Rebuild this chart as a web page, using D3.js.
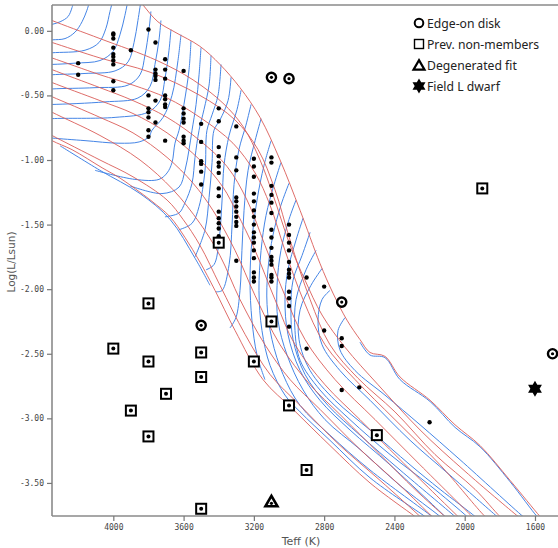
<!DOCTYPE html>
<html><head><meta charset="utf-8">
<script src="https://cdn.jsdelivr.net/npm/d3@7"></script>
<style>body{margin:0;background:#fff}svg{display:block}</style>
</head><body>
<svg id="chart" width="558" height="548"></svg>
<script>
// ---------------- DATA ----------------
const xTicks = [4000, 3600, 3200, 2800, 2400, 2000, 1600];
const yTicks = [0, -0.5, -1, -1.5, -2, -2.5, -3, -3.5];

// cluster members: columns of Teff with their log(L/Lsun) values
const memberTeff = [4200, 4000, 3900, 3800, 3760, 3705, 3600, 3500, 3400, 3300, 3200, 3100, 3000, 2900, 2800, 2700, 2600, 2200];
const memberLogL = [
  [-0.25, -0.34],
  [-0.02, -0.03, -0.06, -0.13, -0.18, -0.20, -0.23, -0.26, -0.39, -0.46],
  [-0.15],
  [0.01, -0.50, -0.60, -0.63, -0.67, -0.77, -0.82],
  [-0.09, -0.30, -0.33, -0.35, -0.38, -0.54, -0.71],
  [-0.22, -0.30, -0.37, -0.50, -0.53, -0.57, -0.59, -0.85],
  [-0.31, -0.60, -0.64, -0.68, -0.71, -0.82, -0.85, -0.87],
  [-0.72, -0.86, -1.01, -1.03, -1.09, -1.19],
  [-0.60, -0.70, -0.90, -0.97, -1.02, -1.05, -1.10, -1.22, -1.28, -1.40, -1.45, -1.49, -1.53, -1.59],
  [-0.74, -0.98, -1.08, -1.29, -1.32, -1.36, -1.40, -1.44, -1.48, -1.51, -1.78],
  [-0.99, -1.05, -1.13, -1.26, -1.32, -1.39, -1.44, -1.50, -1.56, -1.60, -1.64, -1.70, -1.76, -1.87, -1.91, -1.94],
  [-0.98, -1.02, -1.20, -1.27, -1.33, -1.41, -1.54, -1.60, -1.68, -1.75, -1.78, -1.81, -1.89, -1.91, -1.94],
  [-1.50, -1.58, -1.64, -1.70, -1.79, -1.85, -1.88, -1.91, -2.02, -2.07, -2.13, -2.29],
  [-1.91, -2.46],
  [-1.98, -2.32],
  [-2.38, -2.44, -2.78],
  [-2.76],
  [-3.03]
];

const edgeOnDisk = [[3100, -0.36], [3000, -0.37], [3500, -2.28], [2700, -2.10], [1500, -2.50]];
const prevNonMembers = [[4000, -2.46], [3900, -2.94], [3800, -2.11], [3800, -2.56], [3800, -3.14], [3700, -2.81],
  [3500, -2.49], [3500, -2.68], [3500, -3.70], [3400, -1.64], [3200, -2.56], [3100, -2.25], [3000, -2.90],
  [2900, -3.40], [2500, -3.13], [1900, -1.22]];
const degeneratedFit = [[3100, -3.65]];
const fieldLDwarf = [[1600, -2.77]];

const legendLabels = ["Edge-on disk", "Prev. non-members", "Degenerated fit", "Field L dwarf"];

// isochrones (red), [Teff, logL]
const isochrones = [
  [[3877,0.28],[3831,0.20],[3746,0.07],[3649,-0.01],[3507,-0.12],[3393,-0.26],[3279,-0.44],[3165,-0.67],[3051,-1.00],[2937,-1.39],[2824,-1.80],[2750,-2.03],[2670,-2.24],[2596,-2.39],[2539,-2.49],[2454,-2.52],[2368,-2.68],[2197,-2.86],[2055,-3.05],[1913,-3.21],[1742,-3.48],[1571,-3.76],[1543,-3.80]],
  [[4417,0.12],[4349,0.08],[4076,-0.06],[3751,-0.23],[3546,-0.38],[3376,-0.56],[3262,-0.74],[3165,-1.00],[3091,-1.27],[2994,-1.66],[2909,-1.93],[2812,-2.20],[2681,-2.45],[2493,-2.74],[2254,-3.09],[1998,-3.41],[1696,-3.76],[1668,-3.79]],
  [[4417,-0.06],[4349,-0.09],[4076,-0.21],[3791,-0.32],[3507,-0.50],[3307,-0.69],[3176,-0.92],[3080,-1.23],[2994,-1.62],[2880,-2.08],[2767,-2.43],[2607,-2.69],[2397,-2.95],[2169,-3.28],[1941,-3.55],[1799,-3.76],[1771,-3.79]],
  [[4417,-0.18],[4349,-0.21],[4076,-0.34],[3888,-0.42],[3694,-0.52],[3507,-0.67],[3319,-0.87],[3193,-1.10],[3108,-1.35],[3023,-1.70],[2920,-2.08],[2795,-2.43],[2624,-2.70],[2397,-3.01],[2140,-3.36],[1884,-3.76],[1856,-3.79]],
  [[4417,-0.26],[4349,-0.30],[4076,-0.44],[3888,-0.54],[3694,-0.67],[3507,-0.85],[3353,-1.05],[3239,-1.31],[3137,-1.66],[3023,-2.05],[2909,-2.39],[2738,-2.70],[2510,-3.01],[2254,-3.36],[1958,-3.76],[1936,-3.79]],
  [[4417,-0.36],[4349,-0.40],[4076,-0.54],[3888,-0.64],[3694,-0.79],[3507,-1.00],[3376,-1.21],[3296,-1.41],[3193,-1.70],[3080,-2.08],[2966,-2.43],[2795,-2.74],[2596,-3.01],[2368,-3.32],[2038,-3.76],[2015,-3.79]],
  [[4417,-0.47],[4349,-0.51],[4076,-0.67],[3888,-0.79],[3694,-0.98],[3546,-1.18],[3433,-1.39],[3307,-1.70],[3193,-2.05],[3051,-2.43],[2880,-2.74],[2710,-2.97],[2482,-3.28],[2283,-3.55],[2112,-3.76],[2084,-3.79]],
  [[4417,-0.58],[4349,-0.63],[4076,-0.81],[3848,-1.00],[3660,-1.23],[3507,-1.49],[3393,-1.74],[3279,-2.08],[3137,-2.43],[2994,-2.70],[2824,-2.93],[2596,-3.24],[2368,-3.52],[2186,-3.76],[2163,-3.79]],
  [[4417,-0.76],[4349,-0.81],[4076,-1.00],[3888,-1.13],[3694,-1.31],[3603,-1.46],[3507,-1.66],[3393,-1.97],[3250,-2.35],[3108,-2.66],[2937,-2.90],[2710,-3.21],[2482,-3.48],[2254,-3.76],[2232,-3.79]],
  [[4417,-0.79],[4349,-0.85],[4235,-0.92],[4064,-1.06],[3962,-1.14],[3848,-1.25],[3780,-1.32],[3677,-1.44],[3592,-1.60],[3507,-1.79],[3421,-2.01],[3307,-2.32],[3148,-2.70],[2977,-2.93],[2767,-3.21],[2539,-3.50],[2283,-3.76],[2254,-3.79]]
];

// evolutionary tracks (blue), [Teff, logL]
const tracks = [
  [[4224,0.24],[4235,0.18],[4258,0.11],[4303,0.07],[4349,0.05],[4417,0.03]],
  [[4133,0.24],[4150,0.16],[4178,0.07],[4218,-0.01],[4275,-0.06],[4349,-0.07],[4417,-0.08]],
  [[4002,0.24],[4019,0.15],[4042,0.02],[4081,-0.09],[4161,-0.15],[4349,-0.17],[4417,-0.18]],
  [[3916,0.24],[3934,0.12],[3962,-0.03],[4002,-0.16],[4076,-0.23],[4218,-0.25],[4349,-0.26],[4417,-0.26]],
  [[3842,0.24],[3860,0.08],[3882,-0.09],[3916,-0.24],[3990,-0.31],[4161,-0.33],[4349,-0.34],[4417,-0.35]],
  [[3786,0.15],[3797,0.01],[3820,-0.19],[3848,-0.34],[3916,-0.42],[4104,-0.44],[4349,-0.45],[4417,-0.46]],
  [[3729,0.08],[3740,-0.07],[3763,-0.26],[3791,-0.43],[3860,-0.52],[4047,-0.55],[4349,-0.57],[4417,-0.57]],
  [[3672,0.01],[3683,-0.15],[3706,-0.37],[3734,-0.54],[3803,-0.63],[3990,-0.67],[4349,-0.68],[4417,-0.69]],
  [[3615,-0.03],[3632,-0.23],[3666,-0.50],[3717,-0.67],[3780,-0.77],[3797,-0.82],[3853,-0.86],[3968,-0.87],[4161,-0.85],[4349,-0.83],[4417,-0.82]],
  [[3558,-0.08],[3569,-0.30],[3598,-0.57],[3626,-0.77],[3649,-0.87],[3666,-1.02],[3694,-1.10],[3740,-1.15],[3877,-1.15],[4104,-1.08]],
  [[3501,-0.13],[3512,-0.34],[3529,-0.57],[3552,-0.77],[3569,-0.92],[3592,-1.08],[3626,-1.21],[3723,-1.26],[3905,-1.20]],
  [[3444,-0.19],[3455,-0.42],[3484,-0.61],[3512,-0.77],[3535,-0.98],[3552,-1.18],[3592,-1.33],[3626,-1.41],[3706,-1.44]],
  [[3387,-0.26],[3404,-0.50],[3438,-0.65],[3467,-0.77],[3478,-1.08],[3512,-1.36],[3552,-1.49],[3626,-1.54]],
  [[3330,-0.36],[3347,-0.54],[3393,-0.69],[3427,-0.77],[3438,-1.02],[3455,-1.29],[3478,-1.54],[3535,-1.75]],
  [[3273,-0.46],[3296,-0.61],[3341,-0.81],[3370,-1.04],[3381,-1.31],[3398,-1.62],[3427,-1.81],[3472,-1.85]],
  [[3216,-0.57],[3245,-0.73],[3285,-0.92],[3313,-1.19],[3324,-1.50],[3341,-1.81],[3381,-2.01],[3416,-2.02]],
  [[3159,-0.68],[3193,-0.85],[3233,-1.08],[3256,-1.39],[3268,-1.70],[3279,-2.01],[3302,-2.22],[3336,-2.30]],
  [[3102,-0.85],[3142,-1.04],[3182,-1.31],[3211,-1.62],[3222,-1.93],[3211,-2.24],[3182,-2.51],[3137,-2.70]],
  [[3046,-1.02],[3085,-1.19],[3131,-1.43],[3159,-1.70],[3171,-2.01],[3154,-2.32],[3108,-2.59],[3023,-2.82],[2937,-2.95],[2767,-3.17],[2539,-3.46],[2226,-3.76],[2197,-3.79]],
  [[3000,-1.18],[3046,-1.35],[3091,-1.58],[3120,-1.85],[3125,-2.12],[3097,-2.39],[3034,-2.66],[2937,-2.90],[2767,-3.13],[2539,-3.40],[2186,-3.76],[2160,-3.79]],
  [[2960,-1.31],[3000,-1.46],[3046,-1.70],[3068,-1.97],[3063,-2.24],[3011,-2.51],[2920,-2.78],[2795,-3.01],[2596,-3.24],[2368,-3.52],[2140,-3.76],[2115,-3.79]],
  [[2920,-1.45],[2960,-1.62],[3006,-1.85],[3023,-2.08],[3006,-2.35],[2937,-2.63],[2824,-2.86],[2653,-3.09],[2425,-3.36],[2112,-3.76],[2090,-3.79]],
  [[2880,-1.56],[2926,-1.74],[2977,-1.93],[2989,-2.16],[2977,-2.39],[2909,-2.66],[2778,-2.90],[2596,-3.13],[2368,-3.40],[2055,-3.76],[2030,-3.79]],
  [[2846,-1.70],[2903,-1.85],[2960,-2.08],[2966,-2.32],[2937,-2.55],[2824,-2.78],[2653,-3.01],[2425,-3.28],[2197,-3.52],[1987,-3.76],[1965,-3.79]],
  [[2812,-1.84],[2875,-1.97],[2937,-2.16],[2943,-2.39],[2880,-2.63],[2738,-2.86],[2539,-3.09],[2311,-3.36],[2140,-3.55],[1941,-3.76],[1918,-3.79]],
  [[2767,-2.01],[2812,-2.08],[2835,-2.24],[2812,-2.43],[2710,-2.63],[2539,-2.86],[2311,-3.17],[2084,-3.44],[1816,-3.76],[1790,-3.79]],
  [[2681,-2.22],[2721,-2.32],[2710,-2.47],[2624,-2.63],[2454,-2.82],[2254,-3.05],[2027,-3.32],[1668,-3.76],[1640,-3.79]],
  [[2596,-2.41],[2539,-2.51],[2454,-2.53],[2368,-2.70],[2197,-2.87],[2055,-3.07],[1913,-3.22],[1742,-3.49],[1588,-3.76],[1565,-3.79]],
  [[4303,-0.89],[4076,-1.08],[3848,-1.26],[3677,-1.46],[3535,-1.76],[3450,-1.97]]
];

// ---------------- CHART ----------------
const svg = d3.select('#chart');
const pLeft = 52, pRight = 558, pTop = 5, pBottom = 516;
const x = d3.scaleLinear().domain([4349, 1469]).range([pLeft, pRight]);
const y = d3.scaleLinear().domain([0.2, -3.756]).range([pTop, pBottom]);

svg.append('rect').attr('width', 558).attr('height', 548).attr('fill', '#fff');
svg.append('defs').append('clipPath').attr('id', 'plotclip')
  .append('rect').attr('x', pLeft).attr('y', pTop).attr('width', pRight - pLeft).attr('height', pBottom - pTop);

const plot = svg.append('g').attr('clip-path', 'url(#plotclip)');
const line = d3.line().x(d => x(d[0])).y(d => y(d[1])).curve(d3.curveCatmullRom.alpha(0.5));

plot.selectAll('path.track').data(tracks).join('path')
  .attr('class', 'track').attr('d', line)
  .attr('fill', 'none').attr('stroke', '#4585e6').attr('stroke-width', 1);
plot.selectAll('path.iso').data(isochrones).join('path')
  .attr('class', 'iso').attr('d', line)
  .attr('fill', 'none').attr('stroke', '#da5c58').attr('stroke-width', 0.9);

// frame
const frame = svg.append('g').attr('stroke', '#8a8a8a').attr('stroke-width', 1.6);
frame.append('line').attr('x1', pLeft).attr('x2', pLeft).attr('y1', pTop).attr('y2', pBottom);
frame.append('line').attr('x1', pLeft).attr('x2', pRight).attr('y1', pBottom).attr('y2', pBottom);
frame.append('line').attr('x1', pLeft).attr('x2', pRight).attr('y1', pTop).attr('y2', pTop);

// axes
const yAxis = d3.axisLeft(y).tickValues(yTicks).tickFormat(d => d.toFixed(2)).tickSize(5).tickPadding(3).tickSizeOuter(0);
const xAxis = d3.axisBottom(x).tickValues(xTicks).tickFormat(d => String(d)).tickSize(5).tickPadding(3).tickSizeOuter(0);
const ya = svg.append('g').attr('transform', `translate(${pLeft},0)`).call(yAxis);
const xa = svg.append('g').attr('transform', `translate(0,${pBottom})`).call(xAxis);
[ya, xa].forEach(a => {
  a.select('.domain').remove();
  a.selectAll('.tick line').attr('stroke', '#777').attr('stroke-width', 1.2);
  a.selectAll('.tick text').attr('fill', '#444').style('font-family', '"DejaVu Sans Mono", monospace').style('font-size', '8px');
});

svg.append('text').attr('x', 301).attr('y', 545).attr('text-anchor', 'middle')
  .style('font-family', '"DejaVu Sans", sans-serif').style('font-size', '11px').attr('fill', '#555')
  .text('Teff (K)');
svg.append('text').attr('transform', 'translate(15,262) rotate(-90)').attr('text-anchor', 'middle')
  .style('font-family', '"DejaVu Sans", sans-serif').style('font-size', '10.5px').attr('fill', '#555')
  .text('Log(L/Lsun)');

// markers
const hexagram = (cx, cy, r) => {
  const p = d3.path();
  [[-90, 30, 150], [90, 210, 330]].forEach(angs => {
    angs.forEach((a, i) => {
      const t = a * Math.PI / 180;
      const px = cx + r * Math.cos(t), py = cy + r * Math.sin(t);
      if (i === 0) p.moveTo(px, py); else p.lineTo(px, py);
    });
    p.closePath();
  });
  return p.toString();
};
const triPath = (cx, cy, s) => {
  const h = s * Math.sqrt(3) / 2;
  return `M${cx},${cy - h * 0.62}L${cx + s / 2},${cy + h * 0.38}L${cx - s / 2},${cy + h * 0.38}Z`;
};

const marks = svg.append('g');
const members = memberTeff.flatMap((t, i) => memberLogL[i].map(l => [t, l]));
marks.selectAll('circle.m').data(members).join('circle').attr('class', 'm')
  .attr('cx', d => x(d[0])).attr('cy', d => y(d[1])).attr('r', 2.2).attr('fill', '#000');

const sq = marks.selectAll('g.sq').data(prevNonMembers).join('g').attr('class', 'sq')
  .attr('transform', d => `translate(${x(d[0])},${y(d[1])})`);
sq.append('rect').attr('x', -5).attr('y', -5).attr('width', 10).attr('height', 10)
  .attr('fill', '#fff').attr('stroke', '#000').attr('stroke-width', 2);
sq.append('circle').attr('r', 2).attr('fill', '#000');

const ed = marks.selectAll('g.ed').data(edgeOnDisk).join('g').attr('class', 'ed')
  .attr('transform', d => `translate(${x(d[0])},${y(d[1])})`);
ed.append('circle').attr('r', 4.6).attr('fill', '#fff').attr('stroke', '#000').attr('stroke-width', 2.4);
ed.append('circle').attr('r', 1.6).attr('fill', '#000');

marks.selectAll('g.tr').data(degeneratedFit).join('g').attr('class', 'tr')
  .each(function (d) {
    const g = d3.select(this);
    g.append('path').attr('d', triPath(x(d[0]), y(d[1]), 12)).attr('fill', '#fff').attr('stroke', '#000').attr('stroke-width', 2.6).attr('stroke-linejoin', 'miter');
    g.append('circle').attr('cx', x(d[0])).attr('cy', y(d[1]) + 1).attr('r', 1.6).attr('fill', '#000');
  });

marks.selectAll('path.star').data(fieldLDwarf).join('path').attr('class', 'star')
  .attr('d', d => hexagram(x(d[0]), y(d[1]), 8)).attr('fill', '#000');

// legend
const lg = svg.append('g');
const lx = 419, ly = [23, 44, 65, 86];
lg.append('circle').attr('cx', lx).attr('cy', ly[0]).attr('r', 4.3).attr('fill', 'none').attr('stroke', '#000').attr('stroke-width', 2);
lg.append('rect').attr('x', lx - 4.5).attr('y', ly[1] - 4.5).attr('width', 9).attr('height', 9).attr('fill', 'none').attr('stroke', '#000').attr('stroke-width', 1.4);
lg.append('path').attr('d', triPath(lx, ly[2] + 1, 11)).attr('fill', 'none').attr('stroke', '#000').attr('stroke-width', 2.2);
lg.append('path').attr('d', hexagram(lx, ly[3], 7.5)).attr('fill', '#000');
lg.selectAll('text').data(legendLabels).join('text')
  .attr('x', 427).attr('y', (d, i) => ly[i] + 4.5)
  .style('font-family', '"Noto Sans", "DejaVu Sans", sans-serif').style('font-size', '12.2px').attr('fill', '#222')
  .text(d => d);
</script>
</body></html>
